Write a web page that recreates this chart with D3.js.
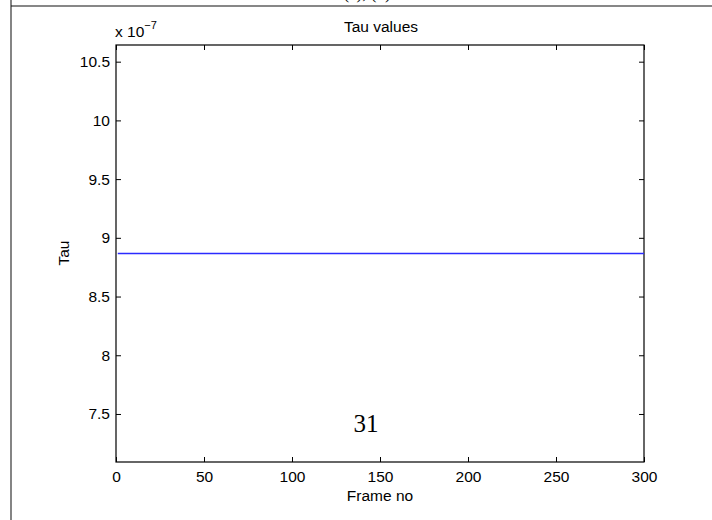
<!DOCTYPE html>
<html><head><meta charset="utf-8">
<script src="https://cdn.jsdelivr.net/npm/d3@7"></script>
<style>html,body{margin:0;padding:0;background:#fff;} svg{display:block;}</style>
</head><body>
<script>
// Data
const frames = [1, 300];
const tauValues = [8.866, 8.866]; // x 10^-7
const xTicks = [0, 50, 100, 150, 200, 250, 300];
const yTicks = [7.5, 8, 8.5, 9, 9.5, 10, 10.5];
const xDomain = [0, 300];
const yDomain = [7.091, 10.642];

const W = 712, H = 520;
const m = {left:116, right:644, top:45, bottom:462};
const svg = d3.select("body").append("svg").attr("width", W).attr("height", H);
const font = "Liberation Sans, Arial, Helvetica, sans-serif";
const fs = 15.5;

// page frame fragments
svg.append("line").attr("x1", 11).attr("x2", 11).attr("y1", 0).attr("y2", H)
  .attr("stroke", "#666").attr("stroke-width", 1.6);
svg.append("line").attr("x1", 11).attr("x2", W).attr("y1", 6).attr("y2", 6)
  .attr("stroke", "#111").attr("stroke-width", 1.2);
svg.append("text").attr("x", 367).attr("y", -1).attr("text-anchor", "middle")
  .attr("font-family", "Liberation Serif, serif").attr("font-size", 17).text("(a), (b)");

const x = d3.scaleLinear().domain(xDomain).range([m.left, m.right]);
const y = d3.scaleLinear().domain(yDomain).range([m.bottom, m.top]);

const tl = 5;
const gb = svg.append("g").attr("transform", `translate(0,${m.bottom})`)
  .call(d3.axisBottom(x).tickValues(xTicks).tickSizeInner(-tl).tickSizeOuter(0).tickPadding(9).tickFormat(d3.format("d")));
const gt = svg.append("g").attr("transform", `translate(0,${m.top})`)
  .call(d3.axisTop(x).tickValues(xTicks).tickSizeInner(-tl).tickSizeOuter(0).tickFormat(""));
const gl = svg.append("g").attr("transform", `translate(${m.left},0)`)
  .call(d3.axisLeft(y).tickValues(yTicks).tickSizeInner(-tl).tickSizeOuter(0).tickPadding(6).tickFormat(d => d3.format("")(d)));
const gr = svg.append("g").attr("transform", `translate(${m.right},0)`)
  .call(d3.axisRight(y).tickValues(yTicks).tickSizeInner(-tl).tickSizeOuter(0).tickFormat(""));

[gb, gt, gl, gr].forEach(g => {
  g.select(".domain").remove();
  g.selectAll(".tick line").attr("stroke", "#000").attr("stroke-width", 1);
  g.selectAll("text").attr("font-family", font).attr("font-size", fs).attr("fill", "#000");
});
svg.append("rect").attr("x", m.left).attr("y", m.top)
  .attr("width", m.right - m.left).attr("height", m.bottom - m.top)
  .attr("fill", "none").attr("stroke", "#000").attr("stroke-width", 1.2);

// line
const line = d3.line().x((d, i) => x(frames[i])).y(d => y(d));
svg.append("path").datum(tauValues).attr("d", line)
  .attr("fill", "none").attr("stroke", "#2b2bff").attr("stroke-width", 1.6);

// labels
svg.append("text").attr("x", 381).attr("y", 32).attr("text-anchor", "middle")
  .attr("font-family", font).attr("font-size", fs).text("Tau values");
const ex = svg.append("text").attr("x", 115).attr("y", 37)
  .attr("font-family", font).attr("font-size", fs);
ex.append("tspan").text("x 10");
ex.append("tspan").attr("dy", -8).attr("font-size", 11).text("\u22127");
svg.append("text").attr("x", 380).attr("y", 501).attr("text-anchor", "middle")
  .attr("font-family", font).attr("font-size", fs).text("Frame no");
svg.append("text").attr("transform", "translate(69,253) rotate(-90)").attr("text-anchor", "middle")
  .attr("font-family", font).attr("font-size", fs).text("Tau");

// page number
svg.append("text").attr("x", 366).attr("y", 432).attr("text-anchor", "middle")
  .attr("font-family", "Liberation Serif, serif").attr("font-size", 25).text("31");
</script>
</body></html>
